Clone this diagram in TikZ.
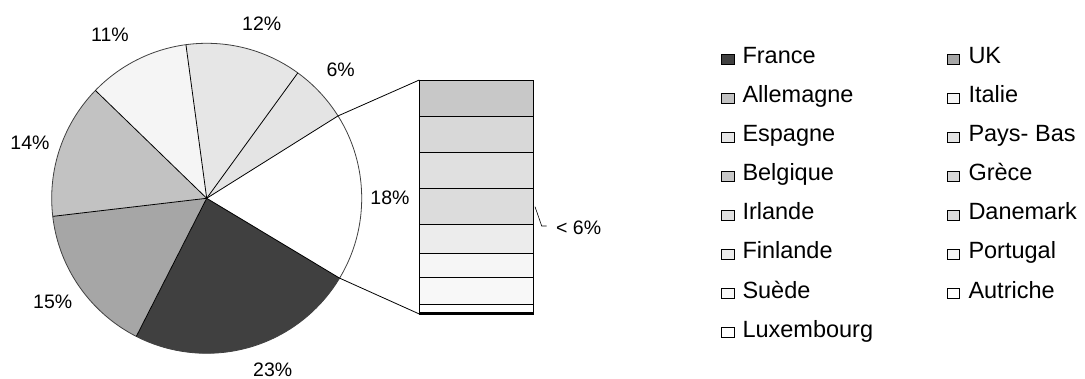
\documentclass[tikz,border=0pt]{standalone}
\usepackage{fontspec}
\setmainfont{Liberation Sans}
\usepackage{xcolor}
\usepackage{tikz}
\usetikzlibrary{positioning,calc}

\definecolor{cFr}{HTML}{404040}
\definecolor{cUK}{HTML}{A6A6A6}
\definecolor{cDe}{HTML}{C2C2C2}
\definecolor{cIt}{HTML}{F5F5F5}
\definecolor{cEs}{HTML}{E6E6E6}
\definecolor{cNl}{HTML}{E4E4E4}
\definecolor{cBe}{HTML}{C8C8C8}
\definecolor{cGr}{HTML}{D8D8D8}
\definecolor{cIe}{HTML}{E0E0E0}
\definecolor{cDk}{HTML}{DCDCDC}
\definecolor{cFi}{HTML}{ECECEC}
\definecolor{cPt}{HTML}{F6F6F6}
\definecolor{cSe}{HTML}{F8F8F8}

\begin{document}
\begin{tikzpicture}[x=1pt,y=1pt,every node/.style={inner sep=0pt}]
\tikzstyle{pct}=[font=\fontsize{19.5}{22}\selectfont]
\tikzstyle{legtxt}=[font=\fontsize{23.5}{26}\selectfont,anchor=base west]
\tikzstyle{sq}=[draw,line width=0.6pt,minimum width=12.5pt,minimum height=10pt,anchor=south west]
\useasboundingbox (0,0) rectangle (1085,379);
% pie
\coordinate (c) at (206.7,180.7);
\fill[cFr] (c) -- ++(-117:155) arc[start angle=-117,end angle=-31,radius=155] -- cycle;
\fill[cUK] (c) -- ++(186.7:155) arc[start angle=186.7,end angle=243,radius=155] -- cycle;
\fill[cDe] (c) -- ++(135.9:155) arc[start angle=135.9,end angle=186.7,radius=155] -- cycle;
\fill[cIt] (c) -- ++(97.7:155) arc[start angle=97.7,end angle=135.9,radius=155] -- cycle;
\fill[cEs] (c) -- ++(54:155) arc[start angle=54,end angle=97.7,radius=155] -- cycle;
\fill[cNl] (c) -- ++(32.1:155) arc[start angle=32.1,end angle=54,radius=155] -- cycle;
\draw[black!75,line width=0.8pt] (c) circle[radius=155];
\foreach \a in {-31,-117,186.7,135.9,97.7,54,32.1}
  \draw[line width=0.8pt] (c) -- ++(\a:155);
\coordinate (pTop) at ($(c)+(32.1:155)$);
\coordinate (pBot) at ($(c)+(-31:155)$);
% percentages
\node[pct] (p12) at (261.7,355.7) {12\%};
\node[pct] (p11) at (110,344) {11\%};
\node[pct] (p6) at (340.7,309) {6\%};
\node[pct] (p14) at (30,235.7) {14\%};
\node[pct] (p18) at (390,181.7) {18\%};
\node[pct] (p15) at (52.7,77.3) {15\%};
\node[pct] (p23) at (272.7,9) {23\%};
% bar of the small countries
\fill[cBe] (419.3,262.7) rectangle (533.7,299);
\fill[cGr] (419.3,226.7) rectangle (533.7,262.7);
\fill[cIe] (419.3,190.7) rectangle (533.7,226.7);
\fill[cDk] (419.3,154.7) rectangle (533.7,190.7);
\fill[cFi] (419.3,125.7) rectangle (533.7,154.7);
\fill[cPt] (419.3,101.3) rectangle (533.7,125.7);
\fill[cSe] (419.3,74.3) rectangle (533.7,101.3);
\foreach \y in {262.7,226.7,190.7,154.7,125.7,101.3,74.3,66.5}
  \draw[line width=0.8pt] (419.3,\y) -- (533.7,\y);
\draw[line width=0.8pt] (419.3,65) rectangle (533.7,299);
\draw[line width=1.6pt] (419.3,65) -- (533.7,65);
\coordinate (barTL) at (419.3,299);
\coordinate (barBL) at (419.3,65);
\draw[line width=0.8pt] (pTop) -- (barTL);
\draw[line width=0.8pt] (pBot) -- (barBL);
% small share label
\coordinate (ldA) at (535,172.3);
\coordinate (ldB) at (541.7,153);
\coordinate (ldC) at (546.7,153);
\node[pct,anchor=base west] (p6b) at (556,144.7) {< 6\%};
\draw[line width=0.6pt] (ldA) -- (ldB) -- (ldC);
% legend
\node[sq,fill=cFr] (sqFr) at (721,314.7) {};
\node[legtxt] (lFr) at (742.3,315.7) {France};
\node[sq,fill=cUK] (sqUK) at (946.7,314.7) {};
\node[legtxt] (lUK) at (968.3,315.7) {UK};
\node[sq,fill=cDe] (sqDe) at (721,275.6) {};
\node[legtxt] (lDe) at (742.3,276.6) {Allemagne};
\node[sq,fill=cIt] (sqIt) at (946.7,275.6) {};
\node[legtxt] (lIt) at (968.3,276.6) {Italie};
\node[sq,fill=cEs] (sqEs) at (721,236.4) {};
\node[legtxt] (lEs) at (742.3,237.4) {Espagne};
\node[sq,fill=cNl] (sqNl) at (946.7,236.4) {};
\node[legtxt] (lNl) at (968.3,237.4) {Pays- Bas};
\node[sq,fill=cBe] (sqBe) at (721,197.3) {};
\node[legtxt] (lBe) at (742.3,198.3) {Belgique};
\node[sq,fill=cGr] (sqGr) at (946.7,197.3) {};
\node[legtxt] (lGr) at (968.3,198.3) {Grèce};
\node[sq,fill=cIe] (sqIe) at (721,158.1) {};
\node[legtxt] (lIe) at (742.3,159.1) {Irlande};
\node[sq,fill=cDk] (sqDk) at (946.7,158.1) {};
\node[legtxt] (lDk) at (968.3,159.1) {Danemark};
\node[sq,fill=cFi] (sqFi) at (721,119) {};
\node[legtxt] (lFi) at (742.3,120) {Finlande};
\node[sq,fill=cPt] (sqPt) at (946.7,119) {};
\node[legtxt] (lPt) at (968.3,120) {Portugal};
\node[sq,fill=cSe] (sqSe) at (721,79.9) {};
\node[legtxt] (lSe) at (742.3,80.9) {Suède};
\node[sq,fill=white] (sqAt) at (946.7,79.9) {};
\node[legtxt] (lAt) at (968.3,80.9) {Autriche};
\node[sq,fill=white,line width=1.2pt] (sqLu) at (721,40.7) {};
\node[legtxt] (lLu) at (742.3,41.7) {Luxembourg};
\end{tikzpicture}
\end{document}
